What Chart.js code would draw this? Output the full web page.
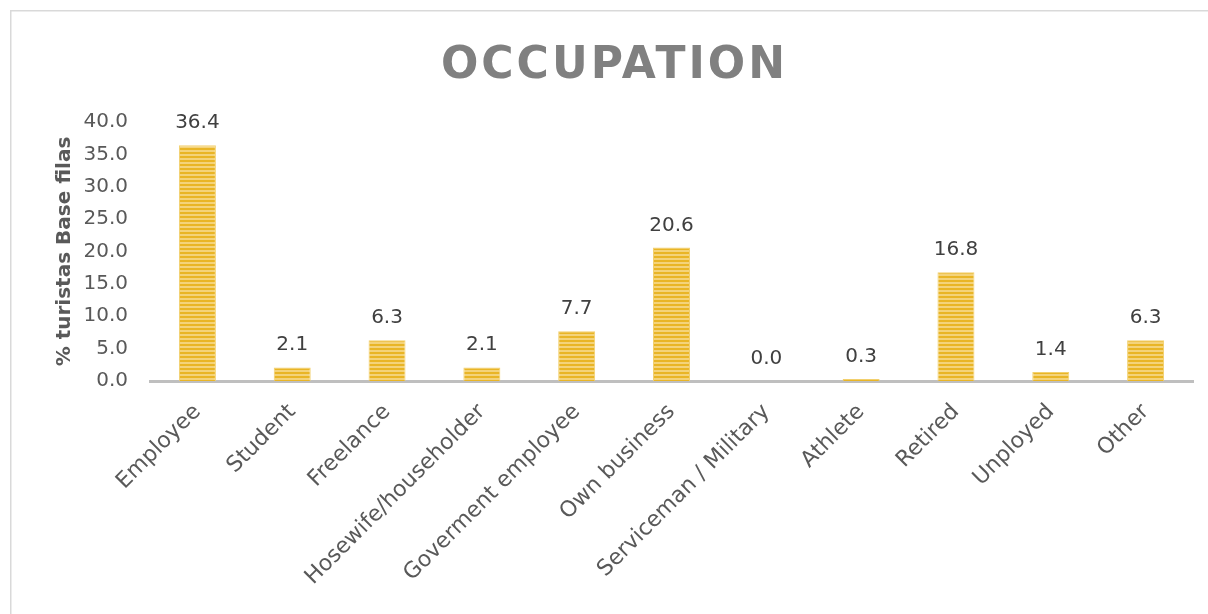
<!DOCTYPE html>
<html>
<head>
<meta charset="utf-8">
<script src="https://cdn.jsdelivr.net/npm/chart.js@4.4.1/dist/chart.umd.min.js"></script>
<style>
  html, body { margin: 0; padding: 0; background: #fff; overflow: hidden; }
  #wrap { width: 1208px; height: 614px; position: relative; }
  canvas { display: block; }
</style>
</head>
<body>
<div id="wrap"><canvas id="c" width="1208" height="614"></canvas></div>
<script>
const chartTitle = 'OCCUPATION';
const yAxisTitle = '% turistas Base filas';
const categories = ['Employee', 'Student', 'Freelance', 'Hosewife/householder', 'Goverment employee', 'Own business', 'Serviceman / Military', 'Athlete', 'Retired', 'Unployed', 'Other'];
const values = [36.4, 2.1, 6.3, 2.1, 7.7, 20.6, 0.0, 0.3, 16.8, 1.4, 6.3];
const yTickMax = 40;
const yTickStep = 5;

const FONT = "'DejaVu Sans', sans-serif";

function makeStripes() {
  const p = document.createElement('canvas');
  p.width = 4; p.height = 4;
  const g = p.getContext('2d');
  g.fillStyle = '#E9B526'; g.fillRect(0, 0, 4, 2);
  g.fillStyle = '#F4D37A'; g.fillRect(0, 2, 4, 2);
  return g.createPattern(p, 'repeat');
}

const frameAndTitle = {
  id: 'frameAndTitle',
  beforeDraw(chart) {
    const ctx = chart.ctx;
    ctx.save();
    ctx.strokeStyle = '#D9D9D9';
    ctx.lineWidth = 1.5;
    ctx.beginPath();
    ctx.moveTo(10.75, 614);
    ctx.lineTo(10.75, 10.75);
    ctx.lineTo(1208, 10.75);
    ctx.stroke();
    ctx.restore();
  },
  afterDraw(chart) {
    const ctx = chart.ctx;
    ctx.save();
    ctx.font = "bold 44px " + FONT;
    ctx.fillStyle = '#808080';
    ctx.textAlign = 'center';
    ctx.textBaseline = 'alphabetic';
    const sp = 3;
    ctx.letterSpacing = sp + 'px';
    ctx.fillText(chartTitle, 613 + sp / 2, 78);
    ctx.restore();
  }
};

const valueLabels = {
  id: 'valueLabels',
  afterDatasetsDraw(chart) {
    const ctx = chart.ctx;
    const meta = chart.getDatasetMeta(0);
    ctx.save();
    ctx.font = "20px " + FONT;
    ctx.fillStyle = '#404040';
    ctx.textAlign = 'center';
    ctx.textBaseline = 'alphabetic';
    meta.data.forEach((bar, i) => {
      ctx.fillText(values[i].toFixed(1), bar.x, bar.y - 17);
    });
    ctx.restore();
  }
};

new Chart(document.getElementById('c'), {
  type: 'bar',
  data: {
    labels: categories,
    datasets: [{
      data: values,
      backgroundColor: makeStripes(),
      borderColor: '#F2D06E',
      borderWidth: 1,
      barPercentage: 0.39,
      categoryPercentage: 1.0
    }]
  },
  options: {
    responsive: false,
    animation: false,
    events: [],
    layout: { padding: { top: 122, left: 45, right: 15, bottom: 0 } },
    plugins: { legend: { display: false }, tooltip: { enabled: false }, title: { display: false } },
    scales: {
      x: {
        grid: { display: false, drawTicks: false },
        border: { display: true, color: '#BFBFBF', width: 3 },
        ticks: { color: '#595959', font: { family: FONT, size: 22 }, minRotation: 45, maxRotation: 45, padding: 18, autoSkip: false },
        afterFit(s) { s.height = 614 - 381; }
      },
      y: {
        min: 0, max: yTickMax,
        grid: { display: false, drawTicks: false },
        border: { display: false },
        ticks: { stepSize: yTickStep, color: '#595959', font: { family: FONT, size: 20 }, padding: 22, callback: v => Number(v).toFixed(1) },
        title: { display: true, text: yAxisTitle, color: '#595959', font: { family: FONT, size: 20, weight: 'bold' }, padding: { top: 8, bottom: 4 } },
        afterFit(s) { s.width = 105; }
      }
    }
  },
  plugins: [frameAndTitle, valueLabels]
});
</script>
</body>
</html>
